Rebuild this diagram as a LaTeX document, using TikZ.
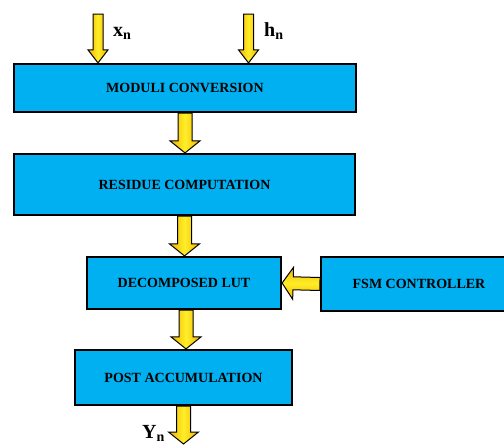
\documentclass[tikz,border=0pt]{standalone}
\usepackage{fontspec}
\setmainfont{Liberation Serif}
\usetikzlibrary{calc}

\definecolor{boxblue}{RGB}{0,176,240}
\definecolor{flowedge}{RGB}{240,180,0}
\definecolor{flowmid}{RGB}{255,238,40}

% fat block arrow: half shaft, half head, head length
\def\fs{7pt}\def\fh{15pt}\def\fl{12pt}
\tikzset{
  block/.style = {draw=black, line width=2.2pt, fill=boxblue, inner sep=0pt,
    font=\fontsize{14}{16}\selectfont\bfseries},
  fatarrow/.style = {draw=black, line width=1pt, line join=miter,
    to path={
      ($(\tikztostart)!\fs!90:(\tikztotarget)$) --
      ($(\tikztotarget)!\fl!(\tikztostart)!\fs!90:(\tikztotarget)$) --
      ($(\tikztotarget)!\fl!(\tikztostart)!\fh!90:(\tikztotarget)$) --
      (\tikztotarget) --
      ($(\tikztotarget)!\fl!(\tikztostart)!\fh!-90:(\tikztotarget)$) --
      ($(\tikztotarget)!\fl!(\tikztostart)!\fs!-90:(\tikztotarget)$) --
      ($(\tikztostart)!\fs!-90:(\tikztotarget)$) -- cycle}},
  vflow/.style = {fatarrow, left color=flowedge, right color=flowedge, middle color=flowmid},
  hflow/.style = {fatarrow, top color=flowedge, bottom color=flowedge, middle color=flowmid},
  sig/.style = {anchor=base west, inner sep=0pt, font=\fontsize{20}{22}\selectfont\bfseries}
}

\begin{document}
\begin{tikzpicture}[x=1pt, y=-1pt]
	\useasboundingbox (0,0) rectangle (504,445);

	\node (mc)  [block, minimum width=342pt, minimum height=48pt] at (185,88)    {MODULI CONVERSION};
	\node (rc)  [block, minimum width=341pt, minimum height=61pt] at (184.5,184.5) {RESIDUE COMPUTATION};
	\node (lut) [block, minimum width=194pt, minimum height=52pt] at (184,283)   {DECOMPOSED LUT};
	\node (fsm) [block, minimum width=196pt, minimum height=54pt] at (419,284)   {FSM CONTROLLER};
	\node (pa)  [block, minimum width=217pt, minimum height=55pt] at (183.5,377.5) {POST ACCUMULATION};

	\coordinate (xin)  at (98,14);
	\coordinate (hin)  at (248.5,14);
	\coordinate (yout) at (183.5,444);

	\node (xl) [sig] at (113,36)  {x\textsubscript{n}};
	\node (hl) [sig] at (264,36)  {h\textsubscript{n}};
	\node (yl) [sig] at (142,438) {Y\textsubscript{n}};

	% inputs are thinner
	\begin{scope}
		\def\fs{5pt}\def\fh{10pt}\def\fl{13pt}
		\path[vflow] (xin) to (xin |- mc.north);
		\path[vflow] (hin) to (hin |- mc.north);
	\end{scope}

	\path[vflow] (mc.south) to (mc.south |- rc.north);
	\path[vflow] (rc.south) to (rc.south |- lut.north);
	\path[vflow] ([xshift=2pt]lut.south) to ([xshift=2pt]lut.south |- pa.north);
	\path[vflow] (pa.south) to (yout);
	\begin{scope}
		\def\fs{6.5pt}\def\fh{16pt}\def\fl{11pt}
		\path[hflow] (fsm.west) to (lut.east);
	\end{scope}
\end{tikzpicture}
\end{document}
